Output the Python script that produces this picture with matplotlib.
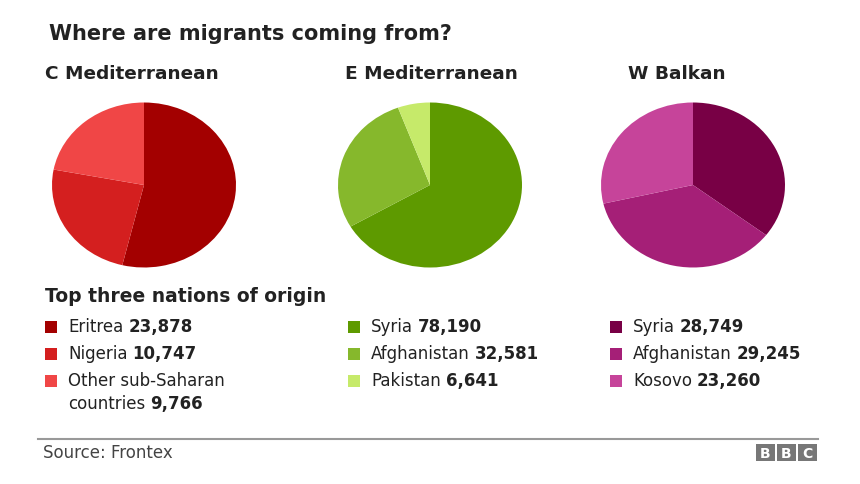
import matplotlib

matplotlib.use("Agg")
import matplotlib.pyplot as plt
from matplotlib.patches import Rectangle

plt.rcParams["font.family"] = ["DejaVu Sans"]

W, H = 860, 484

# data
regions = ["C Mediterranean", "E Mediterranean", "W Balkan"]
c_med_labels = ["Eritrea", "Nigeria", "Other sub-Saharan\ncountries"]
c_med_values = [23878, 10747, 9766]
e_med_labels = ["Syria", "Afghanistan", "Pakistan"]
e_med_values = [78190, 32581, 6641]
w_bal_labels = ["Syria", "Afghanistan", "Kosovo"]
w_bal_values = [28749, 29245, 23260]

c_med_colors = ["#a30000", "#d41f1f", "#f04646"]
e_med_colors = ["#5e9a00", "#86b82c", "#c6ea6a"]
w_bal_colors = ["#780045", "#a51f77", "#c6449a"]

TXT = "#222222"
LEG_FS = 12

fig = plt.figure(figsize=(W / 100, H / 100), dpi=100)
fig.patch.set_facecolor("white")


def px(x, y):
    return x / W, 1 - y / H


def put(x, y, s, **kw):
    kw.setdefault("color", TXT)
    return fig.text(*px(x, y), s, va="center", ha="left", **kw)


def label_value(x, y, lab, val):
    # regular label followed by a bold number
    t = put(x, y, lab, fontsize=LEG_FS)
    fig.canvas.draw()
    bb = t.get_window_extent()
    put(bb.x1 + 5, y, f"{val:,}", fontsize=LEG_FS, fontweight="bold")


put(49, 34, "Where are migrants coming from?", fontsize=15, fontweight="bold")

columns = [
    (c_med_labels, c_med_values, c_med_colors, 144),
    (e_med_labels, e_med_values, e_med_colors, 430),
    (w_bal_labels, w_bal_values, w_bal_colors, 693),
]
sub_x = [45, 345, 628]
leg_x = [45, 348, 610]
rows_y = [327, 354, 381]

for i, (labels, values, colors, cx) in enumerate(columns):
    put(sub_x[i], 74, regions[i], fontsize=13.3, fontweight="bold")

    pw, ph = 184, 165
    ax = fig.add_axes([(cx - pw / 2) / W, 1 - (185 + ph / 2) / H, pw / W, ph / H])
    ax.pie(values, colors=colors, startangle=90, counterclock=False,
           wedgeprops=dict(linewidth=0))
    ax.set_aspect("auto")
    ax.set_xlim(-1, 1)
    ax.set_ylim(-1, 1)

    for j, (lab, val) in enumerate(zip(labels, values)):
        y = rows_y[j]
        fx, fy = px(leg_x[i], y + 6)
        fig.patches.append(Rectangle((fx, fy), 12 / W, 12 / H, transform=fig.transFigure,
                                     facecolor=colors[j], edgecolor="none"))
        tx = leg_x[i] + 23
        if "\n" in lab:
            first, second = lab.split("\n")
            put(tx, y, first, fontsize=LEG_FS)
            label_value(tx, y + 23, second, val)
        else:
            label_value(tx, y, lab, val)

put(45, 297, "Top three nations of origin", fontsize=13.5, fontweight="bold")

# footer
fig.add_artist(plt.Line2D([38 / W, 818 / W], [1 - 439 / H] * 2, color="#999999", lw=1.5,
                          transform=fig.transFigure))
put(43, 453, "Source: Frontex", fontsize=12, color="#444444")

for k, ch in enumerate("BBC"):
    x0 = 756 + k * 21
    fig.patches.append(Rectangle((x0 / W, 1 - 461 / H), 19 / W, 17 / H,
                                 transform=fig.transFigure, facecolor="#777777",
                                 edgecolor="none"))
    fig.text((x0 + 9.5) / W, 1 - 452 / H, ch, ha="center", va="center_baseline",
             fontsize=10, fontweight="bold", color="white")

fig.savefig("out.png", dpi=100, facecolor="white")
